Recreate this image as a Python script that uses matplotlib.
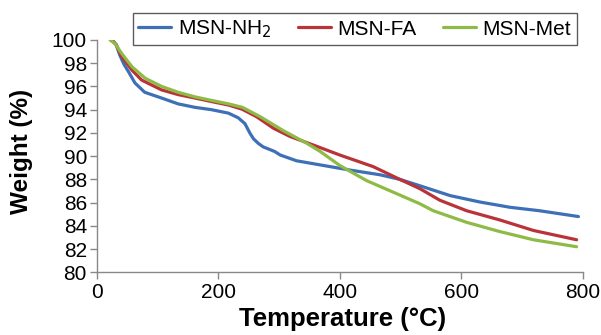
import matplotlib
matplotlib.use("Agg")
import matplotlib.pyplot as plt

plt.rcParams['font.family'] = ['Liberation Sans', 'DejaVu Sans']

# TGA curves: temperature (°C) vs remaining weight (%)
t_nh2 = [25, 32, 38, 45, 52, 63, 79, 107, 134, 162, 189, 217, 233, 244, 252, 258,
         266, 274, 293, 302, 329, 373, 417, 466, 499, 532, 582, 631, 680, 729, 793]
w_nh2 = [100, 99.6, 98.7, 97.9, 97.3, 96.3, 95.5, 95.0, 94.5, 94.2, 94.0, 93.7, 93.3,
         92.8, 92.0, 91.5, 91.1, 90.8, 90.4, 90.1, 89.6, 89.2, 88.8, 88.4, 88.0, 87.45,
         86.6, 86.05, 85.6, 85.3, 84.8]

t_fa = [25, 32, 41, 58, 74, 107, 134, 162, 189, 217, 239, 263, 291, 318, 357, 400,
        455, 499, 532, 565, 609, 664, 719, 790]
w_fa = [100, 99.6, 98.6, 97.4, 96.55, 95.7, 95.3, 95.0, 94.7, 94.4, 94.05, 93.4, 92.4,
        91.7, 90.95, 90.1, 89.1, 88.0, 87.2, 86.2, 85.3, 84.5, 83.6, 82.8]

t_met = [22, 30, 41, 58, 80, 107, 134, 162, 189, 217, 240, 269, 307, 346, 368, 400,
         444, 488, 532, 554, 609, 664, 719, 790]
w_met = [100, 99.7, 98.85, 97.7, 96.7, 96.0, 95.5, 95.1, 94.8, 94.5, 94.2, 93.4, 92.2,
         91.1, 90.4, 89.2, 87.9, 86.9, 85.9, 85.3, 84.3, 83.5, 82.8, 82.2]

x_ticks = [0, 200, 400, 600, 800]
y_ticks = list(range(80, 101, 2))

fig = plt.figure(figsize=(6.01, 3.35), dpi=100)
ax = fig.add_axes([96.7 / 601, 62.7 / 335, 486 / 601, 232.3 / 335])

style = dict(lw=2.3, solid_capstyle='round', solid_joinstyle='round')
ax.plot(t_nh2, w_nh2, color='#3D70B6', label='MSN-NH$_2$', **style)
ax.plot(t_fa, w_fa, color='#B93338', label='MSN-FA', **style)
ax.plot(t_met, w_met, color='#8EBB45', label='MSN-Met', **style)

ax.set_xlim(0, 800)
ax.set_ylim(80, 100)
ax.set_xticks(x_ticks)
ax.set_yticks(y_ticks)
ax.tick_params(labelsize=15, color='#888888', length=5, width=1)
ax.tick_params(axis='y', pad=2)
ax.tick_params(axis='x', pad=3)
for side in ('top', 'right'):
    ax.spines[side].set_visible(False)
for side in ('left', 'bottom'):
    ax.spines[side].set_color('#888888')
    ax.spines[side].set_linewidth(1)

ax.set_xlabel('Temperature (°C)', fontsize=18.5, fontweight='bold')
ax.set_ylabel('Weight (%)', fontsize=17.5, fontweight='bold')
ax.xaxis.set_label_coords(0.506, -0.15)
ax.yaxis.set_label_coords(-0.131, 0.519)

leg = fig.legend(loc='upper left', bbox_to_anchor=(132.7 / 601, 1 - 13.3 / 335),
                 ncol=3, fontsize=15, frameon=True, fancybox=False,
                 edgecolor='#333333', handlelength=1.6, columnspacing=1.25,
                 handletextpad=0.32, borderpad=0.25, borderaxespad=0)
leg.get_frame().set_linewidth(1)

fig.savefig('out.png', dpi=100)
